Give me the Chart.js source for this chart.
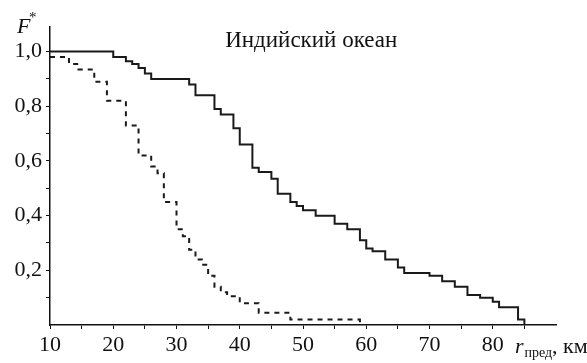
<!DOCTYPE html>
<html>
<head>
<meta charset="utf-8">
<script src="https://cdn.jsdelivr.net/npm/chart.js@4"></script>
<style>
  html, body { margin: 0; padding: 0; background: #fff; }
  #wrap { width: 587px; height: 363px; }
</style>
</head>
<body>
<div id="wrap"><canvas id="myChart"></canvas></div>
<script>
// solid line: r where F* drops, and F* after the drop
var solidX = [10, 20, 22, 23, 24, 25, 26, 32, 33, 36, 37, 39, 40, 42, 43, 45, 46, 48, 49, 50, 52, 55, 57, 59, 60, 61, 63, 65, 66, 70, 72, 74, 76, 78, 80, 81, 84, 85];
var solidY = [1.0, 0.98, 0.965, 0.955, 0.94, 0.92, 0.90, 0.88, 0.84, 0.79, 0.77, 0.72, 0.66, 0.575, 0.56, 0.535, 0.48, 0.45, 0.435, 0.42, 0.40, 0.37, 0.35, 0.31, 0.28, 0.27, 0.24, 0.21, 0.19, 0.18, 0.16, 0.14, 0.11, 0.10, 0.085, 0.065, 0.02, 0];

// dashed line
var dashX = [10, 13, 14.5, 17, 19, 22, 24, 26, 27, 28, 30, 31, 32, 33, 34, 35, 36, 37, 38, 40, 43, 48, 59];
var dashY = [0.98, 0.955, 0.935, 0.89, 0.82, 0.73, 0.62, 0.58, 0.555, 0.45, 0.35, 0.325, 0.275, 0.24, 0.22, 0.18, 0.14, 0.12, 0.105, 0.08, 0.045, 0.02, 0];

var xTicks = [10, 15, 20, 25, 30, 35, 40, 45, 50, 55, 60, 65, 70, 75, 80, 85];
var xLabels = [10, 20, 30, 40, 50, 60, 70, 80];
var yTicks = [0.1, 0.2, 0.3, 0.4, 0.5, 0.6, 0.7, 0.8, 0.9, 1.0];
var yLabels = ['0,2', '0,4', '0,6', '0,8', '1,0'];

var titleText = 'Индийский океан';

function pts(xs, ys) {
  return xs.map(function (x, i) { return { x: x, y: ys[i] }; });
}

var serif = '"Liberation Serif", "DejaVu Serif", serif';

// extra texts: title, F*, r_пред, км
var textPlugin = {
  id: 'texts',
  afterDraw: function (chart) {
    var c = chart.ctx;
    var xs = chart.scales.x;
    c.save();
    c.fillStyle = '#111';
    c.textBaseline = 'alphabetic';

    c.font = '23px ' + serif;
    c.textAlign = 'center';
    c.fillText(titleText, xs.getPixelForValue(51.3), 47);

    c.textAlign = 'left';
    c.font = 'italic 22px ' + serif;
    c.fillText('F', 17, 33);
    c.font = '15px ' + serif;
    c.fillText('*', 29, 22);

    var x0 = xs.getPixelForValue(83.5);
    c.font = 'italic 22px ' + serif;
    c.fillText('r', x0, 353);
    var w = c.measureText('r').width;
    c.font = '14px ' + serif;
    c.fillText('пред', x0 + w + 1, 357);
    w += c.measureText('пред').width + 1;
    c.font = '22px ' + serif;
    c.fillText(', км', x0 + w, 353);
    c.restore();
  }
};

var ctx = document.getElementById('myChart').getContext('2d');
var chart = new Chart(ctx, {
  type: 'line',
  data: {
    datasets: [
      {
        label: 'solid',
        data: pts(solidX, solidY),
        stepped: 'before',
        borderColor: '#1a1a1a',
        borderWidth: 2,
        pointRadius: 0,
        fill: false
      },
      {
        label: 'dashed',
        data: pts(dashX, dashY),
        stepped: 'before',
        borderColor: '#1a1a1a',
        borderWidth: 2,
        borderDash: [5, 5],
        pointRadius: 0,
        fill: false
      }
    ]
  },
  options: {
    responsive: true,
    maintainAspectRatio: false,
    animation: false,
    layout: { padding: { left: 0, right: 31, top: 27, bottom: 0 } },
    plugins: {
      legend: { display: false },
      tooltip: { enabled: false }
    },
    scales: {
      x: {
        type: 'linear',
        min: 10,
        max: 90,
        afterBuildTicks: function (axis) {
          axis.ticks = xTicks.map(function (v) { return { value: v }; });
        },
        afterFit: function (axis) { axis.height = 38; },
        border: { color: '#111', width: 1.5 },
        grid: { drawOnChartArea: false, drawTicks: true, tickLength: 4, color: '#111' },
        ticks: {
          autoSkip: false,
          maxRotation: 0,
          padding: 3,
          color: '#111',
          font: { family: serif, size: 22 },
          callback: function (v) {
            return xLabels.indexOf(v) >= 0 ? String(v) : '';
          }
        }
      },
      y: {
        type: 'linear',
        min: 0,
        max: 1.09,
        afterBuildTicks: function (axis) {
          axis.ticks = yTicks.map(function (v) { return { value: v }; });
        },
        afterFit: function (axis) { axis.width = 50; },
        border: { color: '#111', width: 1.5 },
        grid: { drawOnChartArea: false, drawTicks: true, tickLength: 4, color: '#111' },
        ticks: {
          autoSkip: false,
          padding: 4,
          color: '#111',
          font: { family: serif, size: 22 },
          callback: function (v) {
            var s = v.toFixed(1).replace('.', ',');
            return yLabels.indexOf(s) >= 0 ? s : '';
          }
        }
      }
    }
  },
  plugins: [textPlugin]
});
</script>
</body>
</html>
